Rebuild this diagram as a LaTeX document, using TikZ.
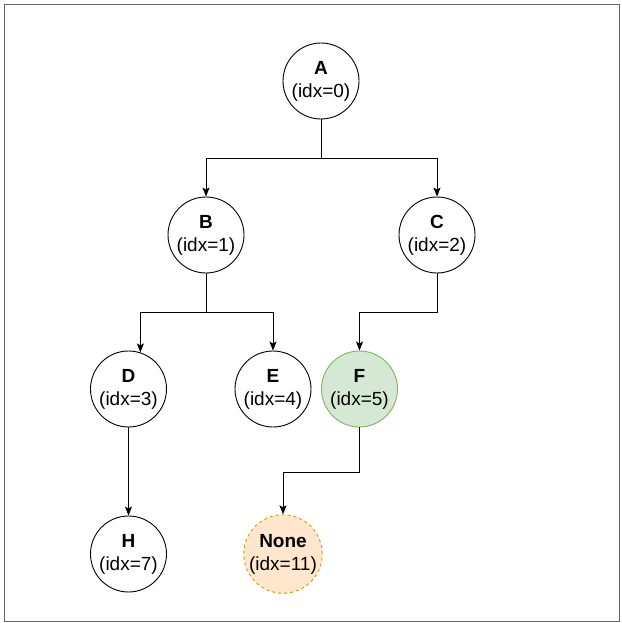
\documentclass[tikz,border=0pt]{standalone}
\usepackage{fontspec}
\setmainfont{Liberation Sans}
\usetikzlibrary{arrows.meta,calc}
\begin{document}
\begin{tikzpicture}[x=1pt,y=-1pt,
 nd/.style={circle,draw=black,line width=0.9pt,minimum size=76pt,inner sep=0pt,align=center,font=\fontsize{19}{23}\selectfont},
 ar/.style={draw=black,line width=0.9pt,-{Stealth[length=9pt,width=7pt,inset=2pt]}},
 green/.style={fill={rgb,255:red,213;green,232;blue,212},draw={rgb,255:red,130;green,179;blue,102}},
 orange/.style={fill={rgb,255:red,255;green,230;blue,204},draw={rgb,255:red,215;green,155;blue,0},dashed}]
\useasboundingbox (0,0) rectangle (621,623);
\draw[gray!80!black, line width=1pt] (4,5) rectangle (619,621);
\node[nd] (A) at (321,81) {\textbf{A}\\(idx=0)};
\node[nd] (B) at (206,235) {\textbf{B}\\(idx=1)};
\node[nd] (C) at (437,235) {\textbf{C}\\(idx=2)};
\node[nd] (D) at (128.5,389) {\textbf{D}\\(idx=3)};
\node[nd] (E) at (273,389) {\textbf{E}\\(idx=4)};
\node[nd,green] (F) at (359.5,389) {\textbf{F}\\(idx=5)};
\node[nd] (H) at (128.5,554) {\textbf{H}\\(idx=7)};
\node[nd,orange] (N) at (283,554) {\textbf{None}\\(idx=11)};
\draw[ar] (A.south) -- ++(0,39) -| (B.north);
\draw[ar] (A.south) -- ++(0,39) -| (C.north);
\draw[ar] (B.south) -- ++(0,39) -| (D.72);
\draw[ar] (B.south) -- ++(0,39) -| (E.north);
\draw[ar] (C.south) -- ++(0,39) -| (F.north);
\draw[ar] (D) -- (H);
\draw[ar] (F.south) -- ++(0,45) -| (N.north);
\end{tikzpicture}
\end{document}
